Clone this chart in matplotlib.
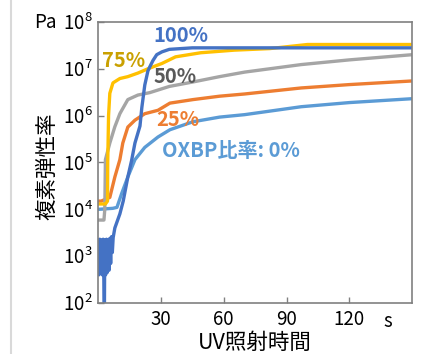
import matplotlib
matplotlib.use("Agg")
import matplotlib.pyplot as plt
from matplotlib.lines import Line2D
from matplotlib.ticker import FixedLocator, NullLocator, LogFormatterMathtext

plt.rcParams['font.family'] = ['Noto Sans CJK JP', 'DejaVu Sans']
plt.rcParams['mathtext.fontset'] = 'custom'
plt.rcParams['mathtext.rm'] = 'Noto Sans CJK JP'

# ---------------- dados ----------------
# 100 %
t_100 = [0, 0.4, 0.8, 1.2, 1.6, 2.0, 2.4, 2.8, 3.0, 3.2, 3.6, 4.0, 4.4, 4.8, 5.2,
         5.6, 6.0, 6.4, 6.8, 7.2, 8.0, 10.4, 12.0, 14.2, 16.0, 17.6, 20.0, 20.9,
         22.3, 23.8, 24.7, 26.2, 28.0, 30.5, 34.0, 45, 150]
g_100 = [2.2e3, 4e2, 2.3e3, 5e2, 2.2e3, 4e2, 2.3e3, 3e2, 5e1, 2.2e3, 4e2, 2.3e3,
         4.5e2, 2.2e3, 5e2, 2.4e3, 7e2, 2.6e3, 1.2e3, 2.5e3, 4e3, 8e3, 1.5e4, 4.9e4,
         1.1e5, 2.6e5, 6e5, 1.5e6, 4.5e6, 9e6, 1.1e7, 1.5e7, 2e7, 2.3e7, 2.6e7,
         2.8e7, 2.8e7]
# 75 %
t_75 = [0, 3.5, 4.5, 4.6, 5.0, 5.6, 7.1, 10.4, 14.2, 19, 23.8, 30.5, 37, 49, 65,
        82, 100, 150]
g_75 = [1.3e4, 1.3e4, 1.5e4, 1e5, 1e6, 3e6, 5e6, 6.2e6, 6.8e6, 8.1e6, 1e7, 1.3e7,
        1.8e7, 2.2e7, 2.5e7, 2.7e7, 3.3e7, 3.3e7]
# 50 %
t_50 = [0, 2.8, 3.2, 3.5, 5.6, 8.0, 10.4, 11.3, 14.2, 19, 24.7, 34, 45, 58, 70,
        97, 120, 150]
g_50 = [5.9e3, 5.9e3, 1e4, 1.15e5, 2.6e5, 5.8e5, 1.1e6, 1.3e6, 2.2e6, 2.75e6,
        3.1e6, 4.2e6, 5.2e6, 6.8e6, 8.5e6, 1.23e7, 1.55e7, 2e7]
# 25 %
t_25 = [0, 1.5, 5.6, 8.0, 10.4, 11.8, 14.2, 17.6, 22.3, 28.6, 34.3, 45.3, 58,
        70, 97, 120, 150]
g_25 = [1.5e4, 1.5e4, 1.8e4, 4.9e4, 1.15e5, 2.6e5, 5.7e5, 8e5, 1.1e6, 1.3e6,
        1.85e6, 2.2e6, 2.6e6, 2.9e6, 3.9e6, 4.6e6, 5.5e6]
# 0 %
t_0 = [0, 7, 9, 11.3, 14.2, 17.6, 22.3, 28.6, 34.3, 45.3, 58, 70, 97, 120, 150]
g_0 = [1e4, 1.05e4, 1.1e4, 2.2e4, 4.9e4, 1.15e5, 2.1e5, 3.5e5, 5e5, 7.4e5,
       9.3e5, 1.05e6, 1.55e6, 1.9e6, 2.3e6]

x_ticks = [30, 60, 90, 120]
y_ticks = [1e2, 1e3, 1e4, 1e5, 1e6, 1e7, 1e8]
# ----------------------------------------------------------

fig = plt.figure(figsize=(4.21, 3.54), dpi=100)
ax = fig.add_axes([0.233, 0.144, 0.746, 0.794])

lw = 2.4
ax.plot(t_0, g_0, color="#5B9BD5", lw=lw)
ax.plot(t_25, g_25, color="#ED7D31", lw=lw)
ax.plot(t_50, g_50, color="#A5A5A5", lw=lw)
ax.plot(t_75, g_75, color="#FFC000", lw=lw)
ax.plot(t_100, g_100, color="#4472C4", lw=lw)

ax.set_yscale("log")
ax.set_xlim(0, 150)
ax.set_ylim(1e2, 1e8)
ax.xaxis.set_major_locator(FixedLocator(x_ticks))
ax.yaxis.set_major_locator(FixedLocator(y_ticks))
ax.yaxis.set_major_formatter(LogFormatterMathtext())
ax.yaxis.set_minor_locator(NullLocator())
ax.xaxis.set_minor_locator(NullLocator())

for s in ax.spines.values():
    s.set_color("#808080")
    s.set_linewidth(1.2)
ax.tick_params(direction="in", length=4, width=1.0, color="#808080",
               labelsize=13.5, pad=4)

# rótulos das curvas
fs = 14.5
ax.text(26.6, 10**7.58, "100%", color="#4472C4", fontsize=fs, fontweight="bold", va="baseline")
ax.text(2.0, 10**7.04, "75%", color="#C9A000", fontsize=fs, fontweight="bold", va="baseline")
ax.text(26.3, 10**6.70, "50%", color="#595959", fontsize=fs, fontweight="bold", va="baseline")
ax.text(28, 10**5.78, "25%", color="#ED7D31", fontsize=fs, fontweight="bold", va="baseline")
ax.text(30.5, 10**5.12, "OXBP比率: 0%", color="#5B9BD5", fontsize=fs, fontweight="bold", va="baseline")

# unidades e eixos
ax.text(138.3, 10**1.6, "s", fontsize=13.5, ha="center", va="center")
fig.text(57 / 421, 1 - 22 / 354, "Pa", fontsize=13.5, ha="right", va="center")
fig.text(47 / 421, 1 - 166 / 354, "複素弾性率", fontsize=15.5, rotation=90,
         ha="center", va="center")
fig.text(255 / 421, 1 - 342.5 / 354, "UV照射時間", fontsize=15.5, ha="center", va="center")

# linha cinza do painel à esquerda
fig.add_artist(Line2D([11 / 421, 11 / 421], [0, 1], color="#D9D9D9", lw=1.5))

fig.savefig("out.png", dpi=100)
